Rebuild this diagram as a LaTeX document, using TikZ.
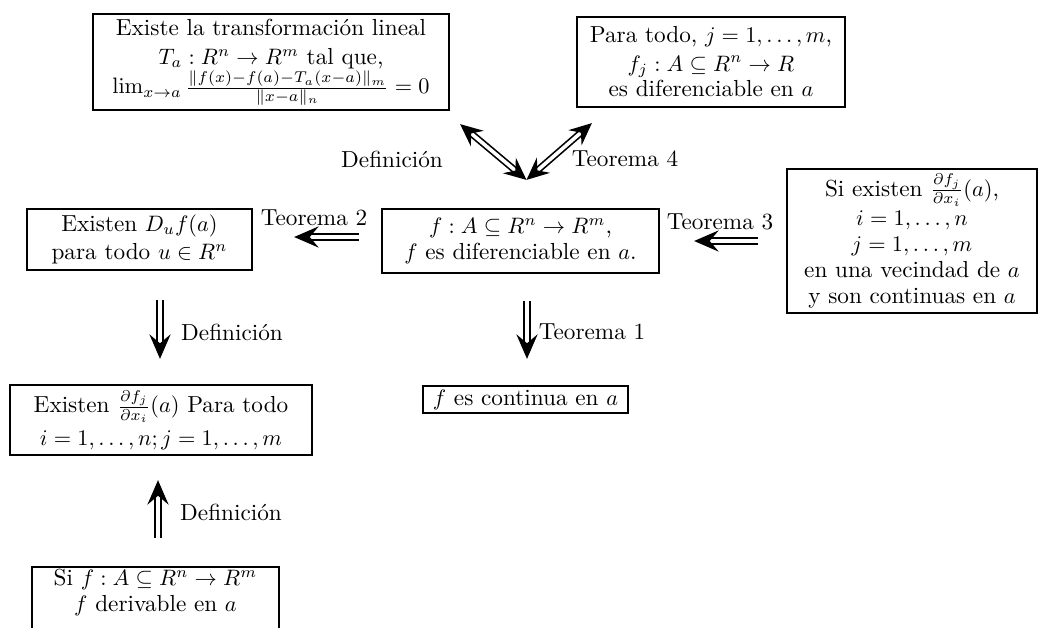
\documentclass[tikz,border=0pt]{standalone}
\usetikzlibrary{arrows.meta,calc}
\newcommand{\pxu}{0.448pt}
\begin{document}
\begin{tikzpicture}[x=0.448pt,y=-0.448pt,
  box/.style={draw, line width=1pt, align=center, inner sep=1pt, font=\fontsize{10.4}{11.6}\selectfont},
  lbl/.style={inner sep=0pt, font=\fontsize{10.4}{11.6}\selectfont},
  imp/.style={double, double distance=1.7pt, line width=0.75pt, -{Stealth[length=11pt,width=9.5pt,inset=4pt]}},
  imptwo/.style={double, double distance=1.6pt, line width=0.75pt, {Stealth[length=10pt,width=9pt,inset=3.5pt]}-{Stealth[length=10pt,width=9pt,inset=3.5pt]}}]
\useasboundingbox (0,0) rectangle (1042,627);
\fill[white] (0,0) rectangle (1042,627);

\node[box, minimum width=356*\pxu, minimum height=96*\pxu] (B1) at (271,62)
  {Existe la transformación lineal\\[1.5pt] $T_a: R^n \to R^m$ tal que,\\ $\lim_{x\to a}\frac{\|f(x)-f(a)-T_a(x-a)\|_m}{\|x-a\|_n}=0$};
\node[box, minimum width=268*\pxu, minimum height=90*\pxu] (B2) at (711,62)
  {Para todo, $j=1,\ldots,m$,\\[1pt] $f_j: A\subseteq R^n\to R$\\ es diferenciable en $a$};
\node[box, minimum width=277*\pxu, minimum height=64*\pxu] (BC) at (520.5,241)
  {$f: A\subseteq R^n \to R^m$,\\ $f$ es diferenciable en $a$.};
\node[box, minimum width=250*\pxu, minimum height=144*\pxu] (BR) at (912,241)
  {Si existen $\frac{\partial f_j}{\partial x_i}(a)$,\\[1.5pt] $i=1,\ldots,n$\\ $j=1,\ldots,m$\\ en una vecindad de $a$\\ y son continuas en $a$};
\node[box, minimum width=225*\pxu, minimum height=61*\pxu] (BL) at (139.5,239.5)
  {Existen $D_uf(a)$\\[1pt] para todo $u\in R^n$};
\node[box, minimum width=302*\pxu, minimum height=70*\pxu] (BP) at (161,420)
  {Existen $\frac{\partial f_j}{\partial x_i}(a)$ Para todo\\[3pt] $i=1,\ldots,n; j=1,\ldots,m$};
\node[box, minimum width=205*\pxu, minimum height=27*\pxu] (BK) at (525.5,399.5)
  {$f$ es continua en $a$};
\node[box, minimum width=247*\pxu, anchor=north] (BS) at (155.5,566)
  {Si $f: A\subseteq R^n\to R^m$\\ $f$ derivable en $a$\rule[-20pt]{0pt}{0pt}};

\draw[imptwo] ($(BC.north)+(6,-28)$) -- ($(B1.south east)+(10,13)$);
\draw[imptwo] ($(BC.north)+(6,-28)$) -- ($(B2.south west)+(16,15)$);
\draw[imp] ($(BC.west)+(-22,-4)$) -- ($(BL.east)+(41,-2.5)$);
\draw[imp] ($(BR.west)+(-28,0)$) -- ($(BC.east)+(34,0)$);
\draw[imp] ($(BC.south)+(6.5,27)$) -- ($(BK.north)+(1.5,-26)$);
\draw[imp] ($(BL.south)+(20.5,29)$) -- ($(BP.north)+(-1,-25)$);
\draw[imp] ($(BS.north)+(2.5,-28)$) -- ($(BP.south)+(-3,24)$);

\node[lbl] (L1) at (392,159) {Definición};
\node[lbl] (L2) at (625,159) {Teorema 4};
\node[lbl] (L3) at (314,218) {Teorema 2};
\node[lbl] (L4) at (720,222) {Teorema 3};
\node[lbl] (L5) at (592,332) {Teorema 1};
\node[lbl] (L6) at (232,332) {Definición};
\node[lbl] (L7) at (231,512) {Definición};
\end{tikzpicture}
\end{document}
